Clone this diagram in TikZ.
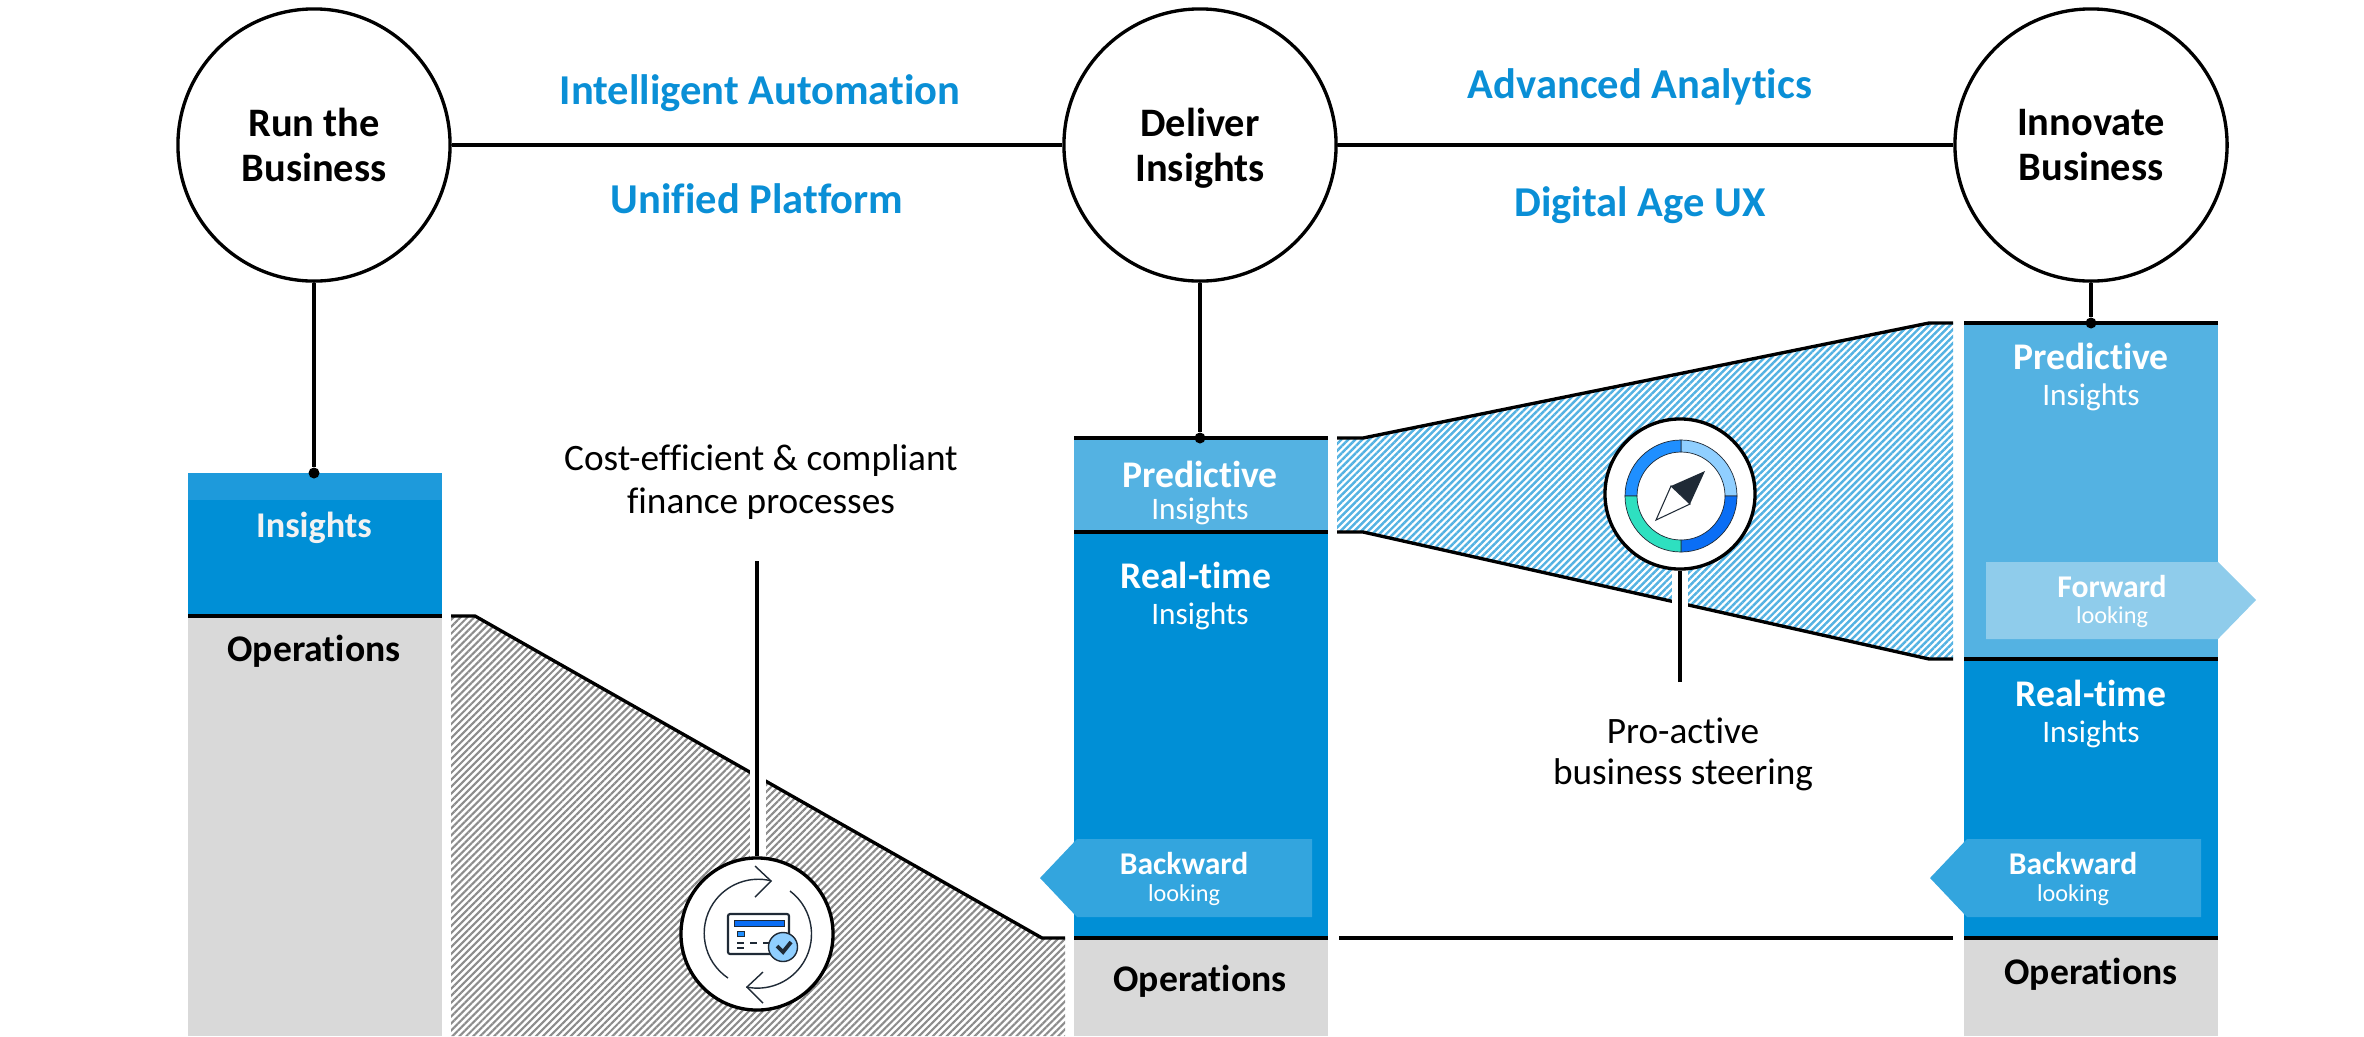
\documentclass[tikz,border=0pt]{standalone}
\usepackage{fontspec}
\setmainfont[Ligatures=NoCommon]{Carlito}
\usepackage{xcolor}
\usetikzlibrary{patterns.meta}

\definecolor{sapdark}{HTML}{008FD6}
\definecolor{saplight}{HTML}{54B2E2}
\definecolor{sapband}{HTML}{1E9ADB}
\definecolor{sapgrey}{HTML}{D9D9D9}
\definecolor{headblue}{HTML}{0A8FD6}
\definecolor{backblue}{HTML}{33A5DE}
\definecolor{forwardblue}{HTML}{8FCCEB}
\definecolor{icondark}{HTML}{1F2A36}
\definecolor{iconblue}{HTML}{0A6EF5}
\definecolor{iconmid}{HTML}{1F8FFF}
\definecolor{iconpale}{HTML}{90CFFF}
\definecolor{iconteal}{HTML}{2EE0C0}

\tikzset{
    hub/.style={draw, circle, line width=0.95pt, fill=white, minimum size=2.72cm, inner sep=0pt, align=center, font=\fontsize{11.5}{12.8}\selectfont\bfseries},
    colbox/.style={rectangle, anchor=north west, minimum width=2.54cm, inner sep=0pt, outer sep=0pt},
    joint/.style={circle, fill=black, minimum size=0.11cm, inner sep=0pt},
    rule/.style={line width=0.95pt},
    headline/.style={text=headblue, font=\fontsize{12.1}{13}\selectfont\bfseries},
    remark/.style={font=\fontsize{10.6}{12}\selectfont},
    bigbold/.style={font=\fontsize{10.7}{12}\selectfont\bfseries},
    lightreg/.style={text=white, font=\fontsize{8.9}{10}\selectfont},
    smallbold/.style={text=white, font=\fontsize{9}{10}\selectfont\bfseries},
    smallreg/.style={text=white, font=\fontsize{6.9}{8}\selectfont},
    greyhatch/.style={pattern={Lines[angle=45,distance=1.4pt,line width=0.6pt]}, pattern color=black!45},
    bluehatch/.style={pattern={Lines[angle=45,distance=1.4pt,line width=0.7pt]}, pattern color=saplight},
    icon/.style={draw=icondark, line width=0.4pt}
}

\begin{document}
\begin{tikzpicture}[x=0.01cm, y=-0.01cm]
    \useasboundingbox (0,0) rectangle (2364,1036);

    % Columns
    \node[colbox, fill=sapgrey, minimum height=4.20cm] (opsone) at (188,616) {};
    \node[colbox, fill=sapdark, minimum height=1.43cm] (insone) at (188,473) {};
    \node[colbox, fill=sapband, minimum height=0.27cm] (bandone) at (188,473) {};

    \node[colbox, fill=sapgrey, minimum height=0.98cm] (opstwo) at (1074,938) {};
    \node[colbox, fill=sapdark, minimum height=4.06cm] (realtwo) at (1074,532) {};
    \node[colbox, fill=saplight, minimum height=0.94cm] (predtwo) at (1074,438) {};

    \node[colbox, fill=sapgrey, minimum height=0.98cm] (opsthree) at (1964,938) {};
    \node[colbox, fill=sapdark, minimum height=2.79cm] (realthree) at (1964,659) {};
    \node[colbox, fill=saplight, minimum height=3.36cm] (predthree) at (1964,323) {};

    % Rules on the columns
    \draw[rule] (opsone.north west) -- (opsone.north east);
    \draw[rule] (predtwo.north west) -- (predtwo.north east);
    \draw[rule] (realtwo.north west) -- (realtwo.north east);
    \draw[rule] (opstwo.north west) -- (opstwo.north east);
    \draw[rule] (predthree.north west) -- (predthree.north east);
    \draw[rule] (realthree.north west) -- (realthree.north east);
    \draw[rule] (opsthree.north west) -- (opsthree.north east);

    % Grey wedge
    \fill[greyhatch] (451,616) -- (475,616) -- (1042,938) -- (1065,938) -- (1065,1036) -- (451,1036) -- cycle;
    \draw[rule] (451,616) -- (475,616) -- (1042,938) -- (1065,938);
    \fill[white] (750,760) rectangle (766,880);

    % Blue wedge
    \fill[bluehatch] (1337,438) -- (1363,438) -- (1929,323) -- (1953,323) -- (1953,659) -- (1929,659) -- (1363,532) -- (1337,532) -- cycle;
    \draw[rule] (1337,438) -- (1363,438) -- (1929,323) -- (1953,323);
    \draw[rule] (1337,532) -- (1363,532) -- (1929,659) -- (1953,659);
    \fill[white] (1672,550) rectangle (1688,620);

    % Line between the operations blocks
    \coordinate (opsgapleft) at (1339,938);
    \coordinate (opsgapright) at (1953,938);
    \draw[rule] (opsgapleft) -- (opsgapright);

    % Top circles
    \node[hub] (run) at (314,145) {Run the\\Business};
    \node[hub] (deliver) at (1200,145) {Deliver\\\smash{Insights}};
    \node[hub] (innovate) at (2091,145) {Innovate\\Business};
    \draw[rule] (run) -- (deliver);
    \draw[rule] (deliver) -- (innovate);

    \node[joint] (jointone) at (314,473) {};
    \node[joint] (jointtwo) at (1200,438) {};
    \node[joint] (jointthree) at (2091,323) {};
    \draw[rule] (run) -- (jointone);
    \draw[rule] (deliver) -- (jointtwo);
    \draw[rule] (innovate) -- (jointthree);

    % Blue headlines
    \node[headline] (automation) at (760,93) {Intelligent Automation};
    \node[headline] (platform) at (757,199) {Unified Platform};
    \node[headline] (analytics) at (1640,87) {Advanced Analytics};
    \node[headline] (digitalux) at (1640,205) {Digital Age UX};

    % Remarks
    \node[remark] (costone) at (761,461) {Cost-efficient \& compliant};
    \node[remark, below of=costone, node distance=0.43cm] (costtwo) {finance processes};
    \node[remark] (proone) at (1683,731) {Pro-active};
    \node[remark, below of=proone, node distance=0.44cm] (protwo) {business steering};

    % Looking arrows
    \fill[backblue] (1077,839) -- (1312,839) -- (1312,917) -- (1077,917) -- (1040,878) -- cycle;
    \fill[backblue] (1967,839) -- (2201,839) -- (2201,917) -- (1967,917) -- (1930,878) -- cycle;
    \fill[forwardblue] (1986,562) -- (2218,562) -- (2256,600) -- (2218,639) -- (1986,639) -- cycle;

    % Column texts
    \node[text=white!95!black, font=\fontsize{10.3}{12}\selectfont\bfseries] (insonetxt) at (314,528) {Insights};
    \node[bigbold] (opsonetxt) at (314,651) {Operations};

    \node[text=white, bigbold] (predtwotxt) at (1200,474) {Predictive};
    \node[lightreg, below of=predtwotxt, node distance=0.37cm] (predtwosub) {Insights};
    \node[text=white, bigbold] (realtwotxt) at (1196,575) {Real-time};
    \node[lightreg, below of=realtwotxt, node distance=0.41cm, xshift=0.04cm] (realtwosub) {Insights};
    \node[smallbold] (backtwo) at (1184,863) {Backward};
    \node[smallreg, below of=backtwo, node distance=0.32cm] (backtwosub) {looking};
    \node[bigbold] (opstwotxt) at (1200,981) {Operations};

    \node[text=white, bigbold] (predthreetxt) at (2091,356) {Predictive};
    \node[lightreg, below of=predthreetxt, node distance=0.41cm] (predthreesub) {Insights};
    \node[smallbold] (forwardtxt) at (2112,587) {Forward};
    \node[smallreg, below of=forwardtxt, node distance=0.30cm] (forwardsub) {looking};
    \node[text=white, bigbold] (realthreetxt) at (2091,693) {Real-time};
    \node[lightreg, below of=realthreetxt, node distance=0.41cm] (realthreesub) {Insights};
    \node[smallbold] (backthree) at (2073,863) {Backward};
    \node[smallreg, below of=backthree, node distance=0.32cm] (backthreesub) {looking};
    \node[bigbold] (opsthreetxt) at (2091,974) {Operations};

    % Card icon
    \node[draw, circle, line width=0.95pt, fill=white, minimum size=1.52cm, inner sep=0pt] (cardring) at (757,934) {};
    \coordinate (costfoot) at (757,561);
    \draw[rule] (costfoot) -- (cardring);
    \draw[icon] (728,978) arc[start angle=124, end angle=284, radius=54];
    \draw[icon] (790,891) arc[start angle=-53, end angle=102, radius=54];
    \draw[icon] (755,866) -- (771,881) -- (755,897);
    \draw[icon] (763,972) -- (747,987) -- (763,1003);
    \draw[icon, line width=0.6pt, rounded corners=0.02cm] (728,914) rectangle (789,954);
    \fill[iconblue, draw=icondark, line width=0.2pt] (734,920) rectangle (784,926);
    \fill[iconmid, draw=icondark, line width=0.2pt] (737,931) rectangle (744,936);
    \draw[icon] (737,943) -- (744,943) (750,943) -- (757,943) (763,943) -- (770,943) (737,948) -- (744,948);
    \node[circle, draw=icondark, line width=0.4pt, fill=iconpale, minimum size=0.29cm, inner sep=0pt] (cardtick) at (783,947) {};
    \draw[icondark, line width=1.1pt] (777,946) -- (783,952) -- (791,942);

    % Compass icon
    \node[draw, circle, line width=0.95pt, fill=white, minimum size=1.50cm, inner sep=0pt] (compassring) at (1680,494) {};
    \coordinate (profoot) at (1680,682);
    \draw[rule] (profoot) -- (compassring);
    \fill[iconpale, draw=icondark, line width=0.2pt] (1681,440) arc[start angle=-90, end angle=0, radius=56] -- (1725,496) arc[start angle=0, end angle=-90, radius=44] -- cycle;
    \fill[iconmid, draw=icondark, line width=0.2pt] (1681,440) arc[start angle=-90, end angle=-180, radius=56] -- (1637,496) arc[start angle=180, end angle=270, radius=44] -- cycle;
    \fill[iconblue, draw=icondark, line width=0.2pt] (1737,496) arc[start angle=0, end angle=90, radius=56] -- (1681,540) arc[start angle=90, end angle=0, radius=44] -- cycle;
    \fill[iconteal, draw=icondark, line width=0.2pt] (1681,552) arc[start angle=90, end angle=180, radius=56] -- (1637,496) arc[start angle=180, end angle=90, radius=44] -- cycle;
    \fill[icondark] (1705,471) -- (1671,486) -- (1690,504) -- cycle;
    \draw[icondark, line width=0.3pt, fill=white] (1656,520) -- (1671,486) -- (1690,504) -- cycle;
\end{tikzpicture}
\end{document}
